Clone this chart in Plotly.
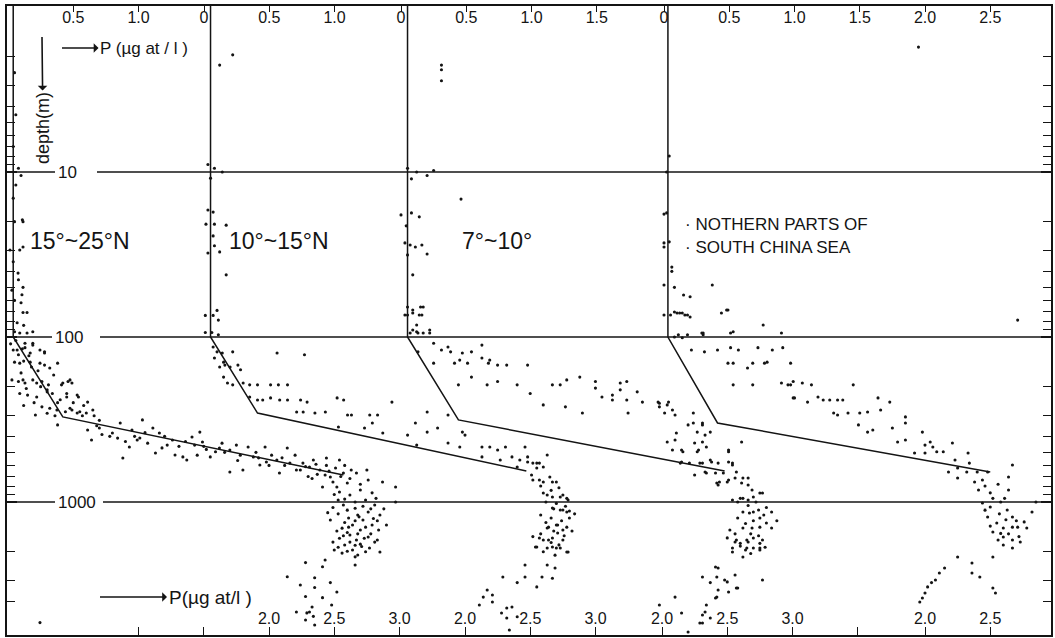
import plotly.graph_objects as go

# ---------------- data (P in µg-at/l, depth in m) ----------------
region_labels = ["15°~25°N", "10°~15°N", "7°~10°"]
sea_label = ["· NOTHERN PARTS OF", "· SOUTH CHINA SEA"]

# simple two-layer model profiles drawn in each panel
model_P = [[0.04, 0.04, 0.42, 2.57],
           [0.05, 0.05, 0.41, 2.47],
           [0.05, 0.05, 0.44, 2.48],
           [0.03, 0.03, 0.41, 2.50]]
model_depth = [[0.98, 100, 305, 686],
               [0.98, 100, 289, 649],
               [0.98, 100, 318, 649],
               [0.98, 100, 332, 658]]

p1_points = [
    (0.05, 2.5), (0.06, 4.5), (0.04, 7), (0.08, 9.5), (0.10, 10.5), (0.06, 12),
    (0.04, 35), (0.08, 45), (0.10, 62), (0.05, 60), (0.12, 85), (0.03, 52),
    (0.04, 14.4), (0.11, 19.5), (0.115, 20), (0.05, 20), (0.115, 28.5), (0.09, 29.7), (0.015, 29.7),
    (0.077, 41), (0.115, 50), (0.107, 55.5), (0.146, 71), (0.115, 71), (0.07, 82), (0.09, 94.5),
    (0.19, 93), (0.146, 94.5), (0.05, 93), (0.13, 109), (0.19, 109), (0.245, 120), (0.17, 125),
    (0.28, 123), (0.07, 120), (0.38, 144), (0.09, 144), (0.32, 154), (0.18, 152), (0.475, 182),
    (0.42, 190), (0.22, 190), (0.115, 182), (0.30, 209), (0.54, 231), (0.45, 231),
    (0.04, 120), (0.08, 128), (0.13, 116), (0.19, 112), (0.28, 125), (0.05, 142), (0.12, 140),
    (0.17, 142), (0.245, 144), (0.28, 148), (0.03, 182), (0.08, 186), (0.13, 190), (0.19, 182),
    (0.26, 186), (0.31, 195), (0.09, 220), (0.15, 225), (0.22, 231), (0.30, 215), (0.34, 220),
    (0.41, 195), (0.46, 186), (0.49, 190), (0.45, 220), (0.53, 225), (0.26, 265), (0.32, 270),
    (0.375, 277), (0.44, 284), (0.49, 277), (0.55, 284), (0.60, 289), (0.21, 297), (0.38, 341),
    (0.475, 270), (0.53, 289), (0.61, 248), (0.65, 277),
    (0.06, 105), (0.11, 118), (0.16, 130), (0.23, 160), (0.35, 170), (0.40, 240), (0.58, 260),
    (0.66, 300), (0.70, 320), (0.20, 250), (0.12, 260), (0.36, 300),
    (0.02, 110), (0.10, 165), (0.25, 200), (0.14, 205), (0.38, 250), (0.50, 250), (0.57, 300),
    (0.30, 290),
    (0.61, 366), (0.64, 421), (0.70, 356), (0.80, 382), (0.86, 332), (0.88, 541), (0.95, 366),
    (0.93, 464), (0.99, 421), (1.03, 318), (1.01, 409), (1.11, 356), (1.13, 505), (1.16, 382),
    (1.22, 452), (1.26, 421), (1.34, 533), (1.37, 556), (1.41, 404), (1.47, 377), (1.49, 433),
    (1.55, 533), (1.62, 471), (1.70, 484), (1.70, 658), (1.75, 452), (1.80, 640), (1.84, 464),
    (1.88, 533), (1.97, 464), (1.98, 572), (2.06, 556), (2.08, 667), (2.14, 471), (2.16, 581),
    (2.21, 640), (2.26, 581), (2.31, 614), (2.34, 556), (2.39, 640), (2.41, 811), (2.44, 541),
    (2.47, 705), (2.49, 756), (2.54, 556), (2.57, 667), (2.60, 767), (2.52, 811), (2.75, 640),
    (2.76, 736), (2.87, 756), (2.97, 811), (2.97, 1000),
    (1.28, 519), (1.43, 452), (1.59, 496), (1.93, 597), (2.24, 640), (2.43, 686), (2.62, 720),
    (2.67, 667), (2.51, 622),
    (0.72, 390), (0.84, 410), (0.97, 400), (1.07, 440), (1.18, 470), (1.31, 460), (1.52, 480),
    (1.66, 500), (1.78, 520), (1.92, 540), (2.02, 520), (2.12, 600), (2.28, 610), (2.37, 680),
    (2.44, 600), (2.55, 700), (2.63, 640), (2.70, 780), (2.33, 720), (1.45, 520),
    (0.68, 345), (0.78, 400), (0.90, 430), (1.05, 380), (1.20, 400), (1.36, 430), (1.50, 460),
    (1.64, 440), (1.76, 560), (1.90, 500), (2.00, 600), (2.10, 540), (2.20, 520), (2.30, 700),
    (2.46, 650), (2.58, 600), (2.36, 590),
    (2.54, 870), (2.62, 907), (2.70, 846), (2.79, 880), (2.74, 973), (2.57, 1043), (2.66, 1090),
    (2.81, 1043), (2.76, 1150), (2.68, 1199), (2.61, 1250), (2.85, 1199), (2.72, 1285), (2.64, 1377),
    (2.79, 1377), (2.56, 1440), (2.70, 1478), (2.84, 1478), (2.62, 1585), (2.76, 1630), (2.54, 1660),
    (2.67, 1700), (2.81, 1750), (2.58, 1823), (2.71, 1860), (2.50, 1955), (2.64, 1955), (2.77, 1900),
    (2.56, 2040), (2.68, 2096), (2.85, 2010), (2.49, 1750), (2.60, 1530), (2.90, 1377), (2.47, 1285),
    (2.53, 973), (2.82, 950),
    (2.50, 900), (2.58, 960), (2.66, 1000), (2.72, 1060), (2.78, 1100), (2.60, 1120), (2.53, 1180),
    (2.69, 1230), (2.80, 1260), (2.58, 1330), (2.66, 1300), (2.74, 1420), (2.52, 1500), (2.61, 1420),
    (2.78, 1560), (2.68, 1560), (2.57, 1600), (2.73, 1660), (2.62, 1750), (2.70, 1800), (2.53, 1880),
    (2.60, 1990), (2.74, 2000), (2.66, 1830), (2.83, 1300), (2.88, 1100), (2.49, 1080), (2.45, 1160),
    (2.83, 1700), (2.66, 2150),
    (2.66, 2410), (2.43, 2248), (2.41, 2470), (2.35, 2880), (2.28, 2330), (2.14, 2840), (2.24, 3185),
    (2.35, 3300), (2.47, 3080), (2.52, 3510), (2.41, 3800), (2.28, 3740), (2.33, 4330), (2.48, 4210),
    (2.29, 4700), (2.34, 4930), (2.28, 5190), (2.35, 5565), (2.31, 4640), (2.21, 4640), (0.245, 5380),
]

p2_points = [
    (0.22, 1.95), (0.12, 2.25),
    (0.03, 9), (0.08, 9.5), (0.14, 10), (0.05, 10.9), (0.03, 17), (0.07, 17.5), (0.08, 20.7),
    (0.015, 20.7), (0.17, 21), (0.03, 31), (0.08, 28), (0.07, 24.4), (0.17, 42), (0.12, 30.5),
    (0.01, 74), (0.07, 74), (0.11, 79), (0.10, 69), (0.01, 94), (0.06, 94), (0.11, 97),
    (0.07, 115), (0.10, 123), (0.14, 125), (0.08, 134), (0.15, 142), (0.22, 123), (0.12, 152),
    (0.16, 148), (0.20, 152), (0.26, 148), (0.28, 158), (0.15, 175), (0.18, 190), (0.22, 195),
    (0.30, 190), (0.35, 195), (0.41, 195), (0.51, 195), (0.57, 195), (0.64, 195), (0.35, 231),
    (0.41, 241), (0.45, 241), (0.51, 234), (0.58, 241), (0.64, 241), (0.74, 241), (0.79, 248),
    (0.56, 125), (0.77, 128), (0.71, 285), (0.76, 285), (0.85, 289), (0.93, 285), (1.02, 234),
    (1.07, 241), (1.10, 297), (1.13, 297), (1.27, 297), (1.33, 297), (1.44, 248), (1.03, 351),
    (1.23, 356), (1.29, 332), (1.37, 382), (1.56, 393), (1.62, 332), (1.63, 452), (1.71, 285),
    (1.71, 377), (1.79, 356), (1.87, 297), (1.87, 439), (1.96, 464), (1.98, 377), (2.00, 393),
    (2.13, 464), (2.13, 533), (2.19, 464), (2.25, 484), (2.31, 464), (2.27, 556), (2.36, 533),
    (2.46, 464), (2.42, 556), (2.48, 533), (2.52, 581), (2.57, 581), (2.63, 519), (2.40, 614),
    (2.55, 622),
    (2.51, 686), (2.57, 736), (2.65, 705), (2.70, 756), (2.60, 881), (2.67, 933), (2.75, 907),
    (2.79, 973), (2.67, 1087), (2.73, 1117), (2.78, 1150), (2.64, 1420), (2.70, 1377), (2.75, 1478),
    (2.71, 1540), (2.57, 1652), (2.64, 1700), (2.67, 1873), (2.73, 1900), (2.79, 2010), (2.54, 1873),
    (2.63, 1900), (2.55, 581), (2.60, 614), (2.48, 572), (2.52, 736), (2.60, 756), (2.67, 756),
    (2.63, 907), (2.73, 933), (2.78, 950), (2.68, 1100), (2.75, 1117), (2.80, 1133), (2.71, 1377),
    (2.78, 1420), (2.63, 1437), (2.60, 1700), (2.67, 1652), (2.75, 1700), (2.55, 1873), (2.70, 1900),
    (2.78, 2010),
    (2.58, 800), (2.66, 850), (2.72, 820), (2.62, 1000), (2.70, 1020), (2.77, 1060), (2.58, 1200),
    (2.66, 1250), (2.74, 1300), (2.80, 1250), (2.62, 1330), (2.68, 1500), (2.58, 1560), (2.76, 1600),
    (2.66, 1760), (2.72, 1820), (2.60, 2000), (2.69, 2100), (2.52, 1620), (2.84, 1180), (2.82, 1500),
    (2.46, 2410), (2.63, 2410), (2.69, 2512), (2.29, 2850), (2.46, 2850), (2.59, 2850), (2.67, 2900),
    (2.40, 3080), (2.55, 3270), (2.17, 3415), (2.21, 3662), (2.14, 3770), (2.21, 4040), (2.11, 4210),
    (2.32, 4390), (2.36, 4330), (2.28, 4710), (2.32, 5050), (2.40, 4960), (2.34, 5970),
]

p3_points = [
    (0.31, 2.25), (0.31, 2.4), (0.31, 2.8),
    (0.05, 9.5), (0.12, 10), (0.20, 10.5), (0.25, 9.8), (0.08, 11),
    (0.46, 14.6), (0.0, 18.2), (0.08, 17.7), (0.14, 18.7), (0.04, 21.2), (0.07, 27.7), (0.03, 26.9),
    (0.11, 28.5), (0.16, 27.7), (0.05, 31.8), (0.20, 31.4), (0.09, 42),
    (0.05, 65.8), (0.09, 71.5), (0.15, 65.8), (0.16, 73.6), (0.05, 73.6), (0.12, 84.6), (0.07, 94.5),
    (0.13, 94.5), (0.22, 94.5), (0.09, 90.7), (0.03, 73.6), (0.09, 68.6), (0.17, 65.8), (0.14, 73.6),
    (0.12, 93), (0.17, 94.5), (0.22, 90.7),
    (0.13, 123), (0.25, 109), (0.25, 144), (0.31, 120), (0.36, 115), (0.38, 123), (0.41, 144),
    (0.47, 125), (0.45, 138), (0.51, 144), (0.54, 123), (0.62, 112), (0.62, 134), (0.67, 144),
    (0.68, 138), (0.74, 148), (0.81, 148), (0.97, 148), (0.54, 175), (0.44, 195), (0.66, 195),
    (0.74, 186), (0.89, 195), (0.99, 220), (1.09, 258), (1.16, 195), (1.22, 195), (1.27, 182),
    (1.26, 265), (1.37, 175), (1.39, 289), (1.49, 186), (1.49, 204), (1.54, 231), (1.62, 225),
    (1.62, 241), (1.68, 190), (1.68, 209), (1.73, 186), (1.73, 241), (1.74, 289), (1.81, 215),
    (1.85, 248), (1.97, 248), (1.98, 265), (2.02, 289), (2.05, 248), (2.08, 277), (2.10, 297),
    (2.24, 289), (2.24, 332), (2.31, 341), (2.11, 382), (2.10, 421), (2.27, 377), (2.33, 393),
    (2.16, 496), (2.08, 484), (2.28, 484), (2.34, 464), (2.14, 581), (2.21, 581), (2.29, 581),
    (2.38, 572), (2.43, 581), (2.54, 581), (2.51, 496), (2.25, 686), (2.34, 667), (2.42, 767),
    (2.50, 756), (2.56, 716), (2.62, 716), (2.57, 658), (2.66, 789), (2.75, 881), (2.44, 756),
    (1.98, 252), (2.04, 258), (2.20, 341), (2.31, 332), (2.37, 377), (2.04, 433), (2.25, 439),
    (2.31, 433), (2.15, 484), (2.27, 496), (2.15, 572), (2.31, 581), (2.37, 556), (2.51, 572),
    (2.54, 597), (2.33, 658), (2.41, 667), (2.47, 667), (2.51, 736), (2.43, 789), (2.61, 767),
    (2.66, 716), (2.69, 846), (2.61, 433), (2.51, 484),
    (2.54, 973), (2.62, 950), (2.66, 973), (2.70, 933), (2.77, 881), (2.62, 1150), (2.67, 1167),
    (2.74, 1117), (2.84, 1150), (2.75, 1250), (2.52, 1478), (2.62, 1437), (2.69, 1437), (2.75, 1420),
    (2.80, 1340), (2.84, 1437), (2.57, 1700), (2.65, 1700), (2.70, 1652), (2.77, 1700), (2.54, 1900),
    (2.65, 1900), (2.70, 1900), (2.75, 1900), (2.62, 2154), (2.54, 2010), (2.60, 950), (2.70, 1150),
    (2.56, 1746), (2.60, 1780), (2.66, 1746), (2.75, 1780), (2.64, 1955), (2.75, 1955),
    (2.58, 1000), (2.66, 1050), (2.72, 1000), (2.80, 1080), (2.58, 1250), (2.70, 1300), (2.78, 1200),
    (2.64, 1350), (2.56, 1560), (2.68, 1560), (2.74, 1600), (2.60, 1850), (2.68, 2050), (2.79, 1880),
    (2.50, 1650), (2.88, 1300),
    (2.41, 2477), (2.77, 2970), (2.31, 2850), (2.42, 2850), (2.37, 3080), (2.50, 3050), (2.57, 3320),
    (2.43, 3415), (2.51, 3510), (2.10, 3770), (2.41, 3820), (2.34, 4210), (1.98, 4210), (2.31, 4840),
    (2.33, 4640), (2.37, 5050), (2.31, 5410), (2.15, 4710), (2.20, 6140), (2.29, 5410), (2.43, 2512),
    (2.48, 2970), (2.56, 2770), (2.58, 3320), (2.42, 3770),
]

p4_points = [
    (1.95, 1.75), (0.04, 8), (0.02, 10), (2.71, 79),
    (0.0, 18), (0.02, 17.7), (0.0, 26.9), (0.04, 26.5), (0.0, 28.5), (0.06, 40),
    (0.06, 37.7), (0.0, 48.4), (0.08, 50), (0.15, 55.6), (0.20, 57), (0.37, 48.4), (0.0, 73.6),
    (0.05, 73.6), (0.08, 70.5), (0.12, 71.5), (0.16, 73.6), (0.20, 75.7), (0.44, 71.5), (0.49, 68.6),
    (0.08, 100), (0.14, 101), (0.18, 97), (0.30, 94.5), (0.30, 97), (0.51, 94.5), (0.53, 93),
    (0.10, 71.5), (0.14, 71.5), (0.18, 73.6), (0.48, 68.6), (0.11, 97), (0.29, 94.5), (0.76, 84.6),
    (0.90, 94.5),
    (0.21, 120), (0.31, 123), (0.41, 120), (0.51, 116), (0.57, 120), (0.49, 144), (0.53, 144),
    (0.64, 154), (0.68, 144), (0.72, 116), (0.77, 144), (0.79, 142), (0.83, 120), (0.91, 116),
    (0.97, 144), (0.53, 195), (0.68, 195), (0.97, 195), (1.00, 234), (0.90, 190), (0.95, 195),
    (0.99, 186), (1.06, 190), (1.13, 195), (0.99, 234), (1.10, 248), (1.18, 231), (1.22, 241),
    (1.27, 241), (1.33, 241), (1.37, 241), (1.45, 195), (1.30, 289), (1.33, 297), (1.41, 289),
    (1.50, 289), (1.56, 285), (1.66, 277), (1.64, 234), (1.73, 248), (1.49, 341), (1.56, 377),
    (1.60, 366), (1.75, 356), (1.85, 305), (1.85, 332), (1.79, 433), (1.85, 421), (1.98, 377),
    (2.00, 452), (2.04, 433), (2.06, 464), (1.92, 505), (2.00, 505), (2.09, 496), (2.14, 496),
    (2.21, 439), (2.23, 556), (2.18, 658), (2.25, 716), (2.25, 622), (2.33, 505), (2.34, 581),
    (2.40, 658), (2.32, 658),
    (2.38, 756), (2.44, 736), (2.48, 658), (2.64, 705), (2.67, 597), (2.41, 846), (2.64, 846),
    (2.44, 1014), (2.52, 950), (2.50, 1072), (2.61, 950), (2.48, 1233), (2.63, 1117), (2.67, 1233),
    (2.82, 1150), (2.55, 1340), (2.60, 1437), (2.67, 1420), (2.71, 1420), (2.78, 1437), (2.52, 1520),
    (2.60, 1630), (2.67, 1700), (2.73, 1746), (2.60, 1823), (2.67, 1900), (2.52, 2154), (2.36, 2343),
    (2.46, 800), (2.56, 780), (2.50, 880), (2.58, 1000), (2.46, 1120), (2.57, 1180), (2.70, 1300),
    (2.62, 1280), (2.76, 1320), (2.50, 1400), (2.58, 1550), (2.64, 1560), (2.56, 1700), (2.72, 1620),
    (2.85, 1000),
    (2.36, 2692), (2.42, 2850), (2.52, 3320), (2.54, 3560), (2.25, 2154), (2.15, 2512), (2.08, 2970),
    (2.02, 3270), (2.00, 3560), (1.96, 4040), (1.98, 3820), (2.05, 3080), (2.11, 2692),
]

all_points = [p1_points, p2_points, p3_points, p4_points]

top_tickvals = [[0.5, 1.0], [0, 0.5, 1.0], [0, 0.5, 1.0, 1.5], [0, 0.5, 1.0, 1.5, 2.0, 2.5]]
top_ticktext = [["0.5", "1.0"], ["0", "0.5", "1.0"], ["0", "0.5", "1.0", "1.5"],
                ["0", "0.5", "1.0", "1.5", "2.0", "2.5"]]
bot_tickvals = [[2.0, 2.5, 3.0], [2.0, 2.5, 3.0], [2.0, 2.5, 3.0], [2.0, 2.5]]
bot_ticktext = [["2.0", "2.5", "3.0"], ["2.0", "2.5", "3.0"], ["2.0", "2.5", "3.0"], ["2.0", "2.5"]]
bot_unlabeled = [[1.0, 1.5], [], [3.5], []]
depth_labels = [10, 100, 1000]
minor_depths = [m * 10 ** e for e in range(0, 4) for m in range(2, 10) if m * 10 ** e < 6500]

# ---------------- layout geometry ----------------
W, H = 1055, 638
ML, MR, MT, MB = 7, 4, 6, 3
PW = W - ML - MR
PH = H - MT - MB
SCALE = 130.5                       # px per µg-at/l
panel_offsets = [1, 197, 394, 657]  # px from plot left to P=0 of each panel


def xr(o):
    return [-o / SCALE, (PW - o) / SCALE]


def px(xpix):
    return (xpix - ML) / PW


def py(ypix):
    return 1 - (ypix - MT) / PH


FONT = "Liberation Sans, Arial, sans-serif"
INK = "#141414"

fig = go.Figure()
top_names = ["x", "x2", "x3", "x4"]
bot_names = ["x5", "x6", "x7", "x8"]
for i in range(4):
    P = [p for p, d in all_points[i]]
    D = [d for p, d in all_points[i]]
    fig.add_trace(go.Scatter(x=P, y=D, mode="markers", xaxis=top_names[i], yaxis="y",
                             marker=dict(size=3.1, color=INK), showlegend=False, hoverinfo="skip"))
    fig.add_trace(go.Scatter(x=model_P[i], y=model_depth[i], mode="lines", xaxis=bot_names[i],
                             yaxis="y", line=dict(color=INK, width=1.5), showlegend=False,
                             hoverinfo="skip"))

layout = dict(
    width=W, height=H, autosize=False,
    margin=dict(l=ML, r=MR, t=MT, b=MB, pad=0),
    paper_bgcolor="white", plot_bgcolor="white",
    font=dict(family=FONT, color=INK, size=16),
    showlegend=False,
    yaxis=dict(type="log", range=[3.806, -0.006], tickvals=depth_labels, showticklabels=False,
               ticks="inside", ticklen=10, tickwidth=1.5, tickcolor=INK, showgrid=False,
               showline=True, linewidth=2.2, linecolor=INK, mirror="ticks", zeroline=False,
               minor=dict(tickvals=minor_depths, ticks="inside", ticklen=8, tickwidth=1.3,
                          tickcolor=INK, showgrid=False)),
)
for i in range(4):
    key_t = "xaxis" if i == 0 else "xaxis%d" % (i + 1)
    key_b = "xaxis%d" % (i + 5)
    common = dict(range=xr(panel_offsets[i]), showgrid=False, zeroline=False, anchor="y",
                  ticks="inside", ticklen=6, tickwidth=1.4, tickcolor=INK,
                  ticklabelposition="inside", tickfont=dict(size=16, family=FONT, color=INK),
                  showline=True, linewidth=2, linecolor=INK, tickmode="array")
    t = dict(common, side="top", tickvals=top_tickvals[i], ticktext=top_ticktext[i])
    b = dict(common, side="bottom", tickvals=bot_tickvals[i], ticktext=bot_ticktext[i],
             overlaying="x", ticklen=8)
    if bot_unlabeled[i]:
        b["minor"] = dict(tickvals=bot_unlabeled[i], ticks="inside", ticklen=8, tickwidth=1.4,
                          tickcolor=INK, showgrid=False)
    if i > 0:
        t["overlaying"] = "x"
    layout[key_t] = t
    layout[key_b] = b
fig.update_layout(**layout)

# horizontal reference lines at 10, 100, 1000 m, broken where the label sits
shapes = []
label_left = [57, 54, 57]
gap_left = [55, 52, 55]
gap_right = [97, 100, 103]
for d, gl, gr in zip(depth_labels, gap_left, gap_right):
    for a, b in [(0, px(gl)), (px(gr), 1)]:
        shapes.append(dict(type="line", xref="paper", yref="y", x0=a, x1=b, y0=d, y1=d,
                           line=dict(color=INK, width=1.3), layer="below"))
fig.update_layout(shapes=shapes)

ann = []
for d, xl in zip(depth_labels, label_left):
    ann.append(dict(text=str(d), x=px(xl), xref="paper", y=len(str(d)) - 1, yref="y",
                    xanchor="left", yanchor="middle", showarrow=False, borderpad=0,
                    font=dict(size=17, family=FONT, color=INK)))
# region labels
for lab, xc in zip(region_labels, [80, 279, 497]):
    ann.append(dict(text=lab, x=px(xc), xref="paper", y=py(241), yref="paper",
                    xanchor="center", yanchor="middle", showarrow=False,
                    font=dict(size=23, family=FONT, color=INK)))
for j, lab in enumerate(sea_label):
    ann.append(dict(text=lab, x=px(683), xref="paper", y=py(225 + 22 * j), yref="paper",
                    xanchor="left", yanchor="middle", showarrow=False,
                    font=dict(size=17, family=FONT, color=INK)))
# axis titles with their arrows (arrowhead drawn at the text end)
arrow = dict(showarrow=True, arrowside="start", arrowhead=2, arrowsize=1, arrowwidth=1.6,
             arrowcolor=INK, axref="pixel", ayref="pixel", xref="paper", yref="paper")
ann.append(dict(arrow, text="depth(m)", x=px(42), y=py(37), ax=1, ay=91, textangle=-90,
                font=dict(size=18, family=FONT, color=INK)))
ann.append(dict(arrow, text="P (µg at / l )", x=px(62), y=py(48), ax=82, ay=0,
                font=dict(size=17, family=FONT, color=INK)))
ann.append(dict(arrow, text="P(µg at/l )", x=px(100), y=py(597), ax=110, ay=0,
                font=dict(size=19, family=FONT, color=INK)))
fig.update_layout(annotations=ann)

fig.write_html("out.html", config={"displayModeBar": False},
               post_script="document.body.style.margin='0px';document.body.style.overflow='hidden';")
